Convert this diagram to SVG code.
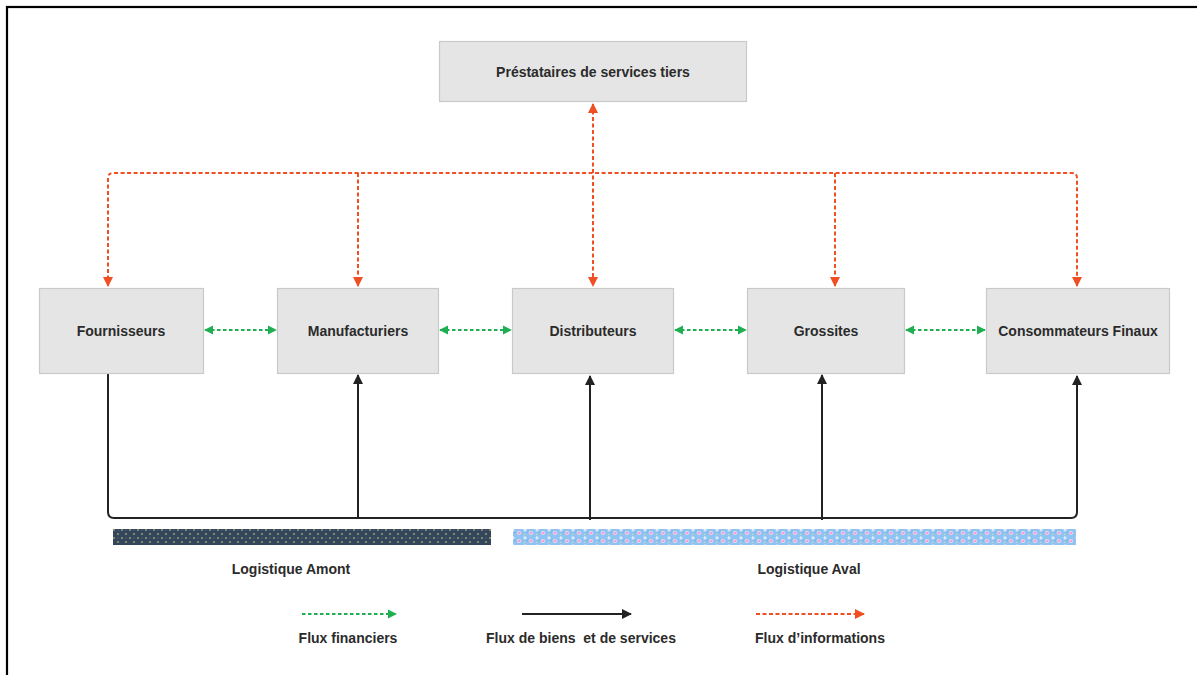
<svg xmlns="http://www.w3.org/2000/svg" width="1197" height="675" viewBox="0 0 1197 675">
<style>
.box{fill:#e5e5e5;stroke:#c9c9c9;stroke-width:1.2}
.lbl{font-family:"Liberation Sans",Arial,sans-serif;font-weight:bold;font-size:14px;fill:#2b2b2b;text-anchor:middle}
.info{fill:none;stroke:#f04e23;stroke-width:2;stroke-dasharray:4 2.5}
.fin{fill:none;stroke:#1fae52;stroke-width:2;stroke-dasharray:3.5 2.5}
.goods{fill:none;stroke:#222;stroke-width:2}
</style>
<defs>
<marker id="ao" viewBox="0 0 10 10" refX="9" refY="5" markerWidth="10" markerHeight="10" orient="auto-start-reverse" markerUnits="userSpaceOnUse"><path d="M0,0 L10,5 L0,10 z" fill="#f04e23"/></marker>
<marker id="ag" viewBox="0 0 10 10" refX="9" refY="5" markerWidth="9" markerHeight="10" orient="auto-start-reverse" markerUnits="userSpaceOnUse"><path d="M0,0 L10,5 L0,10 z" fill="#1fae52"/></marker>
<marker id="ab" viewBox="0 0 10 10" refX="9" refY="5" markerWidth="10" markerHeight="10" orient="auto-start-reverse" markerUnits="userSpaceOnUse"><path d="M0,0 L10,5 L0,10 z" fill="#222"/></marker>
<pattern id="navy" width="8" height="8" patternUnits="userSpaceOnUse">
<rect width="8" height="8" fill="#33465c"/>
<circle cx="2" cy="2" r="0.8" fill="#e9df8a"/>
<circle cx="6" cy="6" r="0.8" fill="#e9df8a"/>
<circle cx="6" cy="2" r="0.4" fill="#9fb2c0"/>
</pattern>
<pattern id="flower" width="12" height="8" patternUnits="userSpaceOnUse">
<rect width="12" height="8" fill="#8fc3f1"/>
<circle cx="3" cy="5" r="2" fill="#f6d2ee"/>
<circle cx="3" cy="5" r="0.8" fill="#f0609f"/>
<circle cx="9" cy="1.8" r="1.6" fill="#dfeafc"/>
<circle cx="8.5" cy="6.5" r="0.6" fill="#f2e27a"/>
<circle cx="11" cy="4.5" r="0.5" fill="#4f8fd8"/>
</pattern>
</defs>
<rect x="7" y="7" width="1200" height="680" fill="none" stroke="#000" stroke-width="2.2"/>

<g id="connectors">
<path class="info" d="M108,286 V178 Q108,173 113,173 H1072 Q1077,173 1077,178 V286" marker-start="url(#ao)" marker-end="url(#ao)"/>
<path class="info" d="M358,173 V286" marker-end="url(#ao)"/>
<path class="info" d="M835,173 V286" marker-end="url(#ao)"/>
<path class="info" d="M593,104 V286" marker-start="url(#ao)" marker-end="url(#ao)"/>
<path class="fin" d="M205,330 H276" marker-start="url(#ag)" marker-end="url(#ag)"/>
<path class="fin" d="M440,330 H511" marker-start="url(#ag)" marker-end="url(#ag)"/>
<path class="fin" d="M675,330 H746" marker-start="url(#ag)" marker-end="url(#ag)"/>
<path class="fin" d="M906,330 H985" marker-start="url(#ag)" marker-end="url(#ag)"/>
<path class="goods" d="M108,374 V512 Q108,518 114,518 H1071 Q1077,518 1077,512 V376" marker-end="url(#ab)"/>
<path class="goods" d="M358,518 V375" marker-end="url(#ab)"/>
<path class="goods" d="M590,520 V376" marker-end="url(#ab)"/>
<path class="goods" d="M822,520 V375" marker-end="url(#ab)"/>
</g>

<g id="n-prestataires"><rect class="box" x="439.5" y="41.5" width="307" height="60"/><text class="lbl" x="593" y="77">Préstataires de services tiers</text></g>
<g id="n-fournisseurs"><rect class="box" x="39.5" y="288.5" width="164" height="85"/><text class="lbl" x="121" y="336">Fournisseurs</text></g>
<g id="n-manufacturiers"><rect class="box" x="277.5" y="288.5" width="161" height="85"/><text class="lbl" x="358" y="336">Manufacturiers</text></g>
<g id="n-distributeurs"><rect class="box" x="512.5" y="288.5" width="161" height="85"/><text class="lbl" x="593" y="336">Distributeurs</text></g>
<g id="n-grossites"><rect class="box" x="747.5" y="288.5" width="157" height="85"/><text class="lbl" x="826" y="336">Grossites</text></g>
<g id="n-consommateurs"><rect class="box" x="986.5" y="288.5" width="183" height="85"/><text class="lbl" x="1078" y="336">Consommateurs Finaux</text></g>

<g id="logistique-amont"><rect x="113" y="529" width="378" height="16" fill="url(#navy)"/><text class="lbl" x="291" y="574">Logistique Amont</text></g>
<g id="logistique-aval"><rect x="513" y="529" width="563" height="16" fill="url(#flower)"/><text class="lbl" x="809" y="574">Logistique Aval</text></g>

<g id="legend">
<path class="fin" d="M302,614 H396" marker-end="url(#ag)"/>
<text class="lbl" x="348" y="643">Flux financiers</text>
<path class="goods" d="M522,614 H631" marker-end="url(#ab)"/>
<text class="lbl" x="581" y="643" xml:space="preserve">Flux de biens  et de services</text>
<path class="info" d="M756,614 H864" marker-end="url(#ao)"/>
<text class="lbl" x="820" y="643">Flux d’informations</text>
</g>
</svg>
